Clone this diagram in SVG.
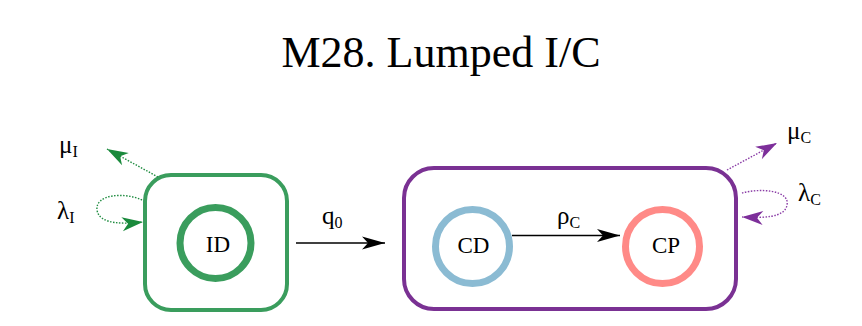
<svg xmlns="http://www.w3.org/2000/svg" width="862" height="326" viewBox="0 0 862 326">
<style>
text{font-family:"Liberation Serif","DejaVu Serif",serif;fill:#000}
.title{font-size:44px}
.lbl{font-size:23px}
.gk{font-size:25px}
.sub{font-size:16px}
.dotg{fill:none;stroke:#1f8c40;stroke-width:1.4;stroke-dasharray:1.5 1.5}
.dotp{fill:none;stroke:#8a3ca6;stroke-width:1.4;stroke-dasharray:1.5 1.5}
.solid{fill:none;stroke:#000;stroke-width:1.4}
</style>
<defs>
<marker id="ahK" viewBox="-24 -8 26 16" markerWidth="26" markerHeight="16" refX="0" refY="0" orient="auto" markerUnits="userSpaceOnUse">
<path d="M0,0 L-23,-6.5 L-17,0 L-23,6.5 z" fill="#000"/>
</marker>
<marker id="ahG" viewBox="-24 -8 26 16" markerWidth="26" markerHeight="16" refX="0" refY="0" orient="auto" markerUnits="userSpaceOnUse">
<path d="M0,0 L-21,-7 L-15,0 L-21,7 z" fill="#1a8a3c"/>
</marker>
<marker id="ahP" viewBox="-24 -8 26 16" markerWidth="26" markerHeight="16" refX="0" refY="0" orient="auto" markerUnits="userSpaceOnUse">
<path d="M0,0 L-21,-7 L-15,0 L-21,7 z" fill="#7d2f9a"/>
</marker>
</defs>

<text class="title" x="441" y="67" text-anchor="middle">M28. Lumped I/C</text>

<g id="I-box">
<rect x="145" y="175" width="142" height="135" rx="26" ry="26" fill="none" stroke="#3a9d5d" stroke-width="4"/>
</g>
<g id="ID">
<circle cx="215.5" cy="243" r="35.5" fill="none" stroke="#3a9d5d" stroke-width="7"/>
<text class="lbl" x="218" y="252" text-anchor="middle">ID</text>
</g>
<g id="C-box">
<rect x="404" y="168" width="332" height="141" rx="30" ry="30" fill="none" stroke="#7a3193" stroke-width="4"/>
</g>
<g id="CD">
<circle cx="472.5" cy="246.5" r="37" fill="none" stroke="#8bbbd3" stroke-width="7"/>
<text class="lbl" x="473.5" y="253" text-anchor="middle">CD</text>
</g>
<g id="CP">
<circle cx="662.5" cy="246.5" r="37" fill="none" stroke="#ff8a87" stroke-width="7"/>
<text class="lbl" x="666" y="253" text-anchor="middle">CP</text>
</g>

<g id="connectors">
<path class="solid" d="M296,243 L385,243" marker-end="url(#ahK)"/>
<path class="solid" d="M512,235.5 L620,235.5" marker-end="url(#ahK)"/>
<path class="dotg" d="M158,177 L107,149" marker-end="url(#ahG)"/>
<path class="dotg" d="M142,200 C125,192 95,194 97,210 C99,225 125,224 143,222" marker-end="url(#ahG)"/>
<path class="dotp" d="M727,170 L777,143" marker-end="url(#ahP)"/>
<path class="dotp" d="M742,193 C760,188 790,190 787,205 C785,218 762,218 742,217" marker-end="url(#ahP)"/>
</g>

<g id="labels">
<text class="gk" x="322" y="224">q<tspan class="sub" dy="4">0</tspan></text>
<text class="gk" x="557" y="224">ρ<tspan class="sub" dy="4">C</tspan></text>
<text class="gk" x="59" y="153">μ<tspan class="sub" dy="4">I</tspan></text>
<text class="gk" x="57" y="219">λ<tspan class="sub" dy="4">I</tspan></text>
<text class="gk" x="787" y="139">μ<tspan class="sub" dy="4">C</tspan></text>
<text class="gk" x="798" y="201">λ<tspan class="sub" dy="4">C</tspan></text>
</g>
</svg>
